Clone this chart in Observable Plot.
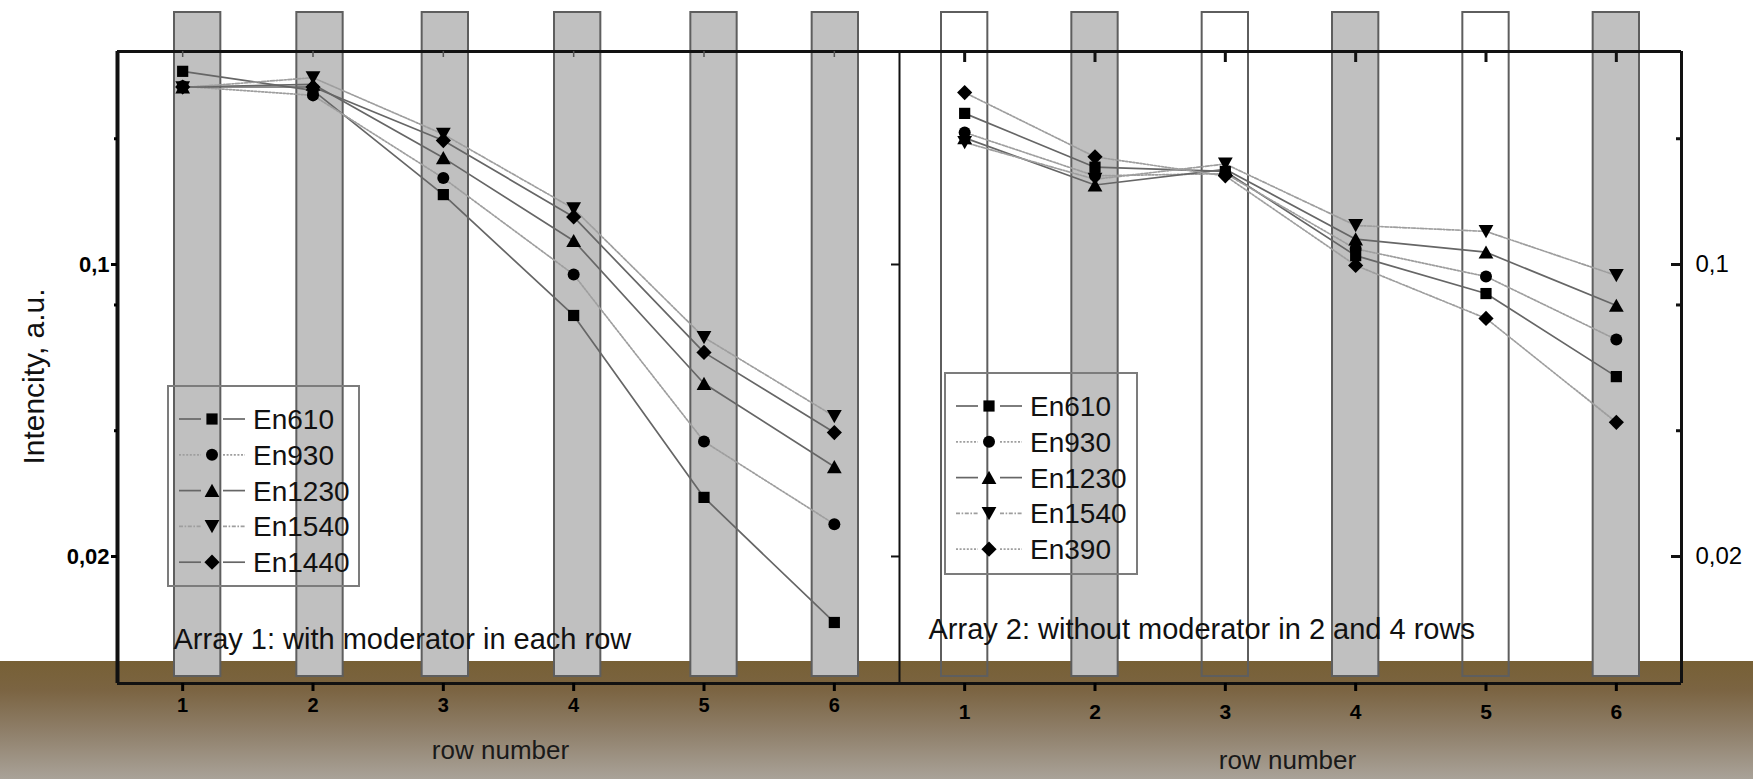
<!DOCTYPE html>
<html>
<head>
<meta charset="utf-8">
<script src="https://cdn.jsdelivr.net/npm/d3@7"></script>
<script src="https://cdn.jsdelivr.net/npm/@observablehq/plot@0.6"></script>
<style>
  html, body { margin: 0; padding: 0; background: #fff; }
  #chart {
    position: relative; width: 1753px; height: 779px; overflow: hidden;
    background: linear-gradient(to bottom, #ffffff 0px, #ffffff 661px, #776035 661px, #7b6442 690px, #8e7e68 730px, #a9a298 779px);
  }
</style>
</head>
<body>
<div id="chart"></div>
<script>
// ---------------- data ----------------
const rows = [1, 2, 3, 4, 5, 6];
const panels = ["Array 1", "Array 2"];
const array1Series = ["En610", "En930", "En1230", "En1540", "En1440"];
const array2Series = ["En610", "En930", "En1230", "En1540", "En390"];

const a1En610  = [0.290, 0.261, 0.147, 0.0755, 0.0277, 0.0139];
const a1En930  = [0.267, 0.254, 0.161, 0.0946, 0.0377, 0.0239];
const a1En1230 = [0.266, 0.270, 0.180, 0.114, 0.0519, 0.0328];
const a1En1540 = [0.265, 0.280, 0.205, 0.136, 0.0669, 0.0433];
const a1En1440 = [0.266, 0.266, 0.198, 0.130, 0.0616, 0.0396];

const a2En610  = [0.230, 0.171, 0.167, 0.105, 0.0852, 0.0539];
const a2En930  = [0.207, 0.163, 0.165, 0.109, 0.0936, 0.0661];
const a2En1230 = [0.201, 0.155, 0.169, 0.115, 0.107, 0.0798];
const a2En1540 = [0.196, 0.160, 0.174, 0.124, 0.120, 0.0941];
const a2En390  = [0.258, 0.181, 0.163, 0.0995, 0.0743, 0.0419];

const array1Bars = ["filled", "filled", "filled", "filled", "filled", "filled"];
const array2Bars = ["open", "filled", "open", "filled", "open", "filled"];

const yTicks = [0.1, 0.02];
const yMinorTicks = [0.2, 0.08, 0.04];
const annotations = ["Array 1: with moderator in each row", "Array 2: without moderator in 2 and 4 rows"];
const xLabel = "row number";
const yLabel = "Intencity, a.u.";

// ---------------- layout / style ----------------
const W = 1753, H = 779, mL = 117, mR = 72, mT = 51, mB = 96;
const facetW = (W - mL - mR) / 2;
const frameH = H - mT - mB;
const xDomain = [0.5, 6.5];
const yDomain = [0.00993, 0.3235];
const font = "'Liberation Sans', Arial, Helvetica, sans-serif";
const fmt = d => String(d).replace(".", ",");
// pixel nudges of the background columns of the first panel (drawing offsets)
const panel1ColumnNudge = [15, 7, 2, 4, 10, 1];

const k6 = size => Math.sqrt(size / Math.PI) / 6;
const squareSym = {draw(c, s) { const h = 5.6 * k6(s); c.moveTo(-h, -h); c.lineTo(h, -h); c.lineTo(h, h); c.lineTo(-h, h); c.closePath(); }};
const circleSym = {draw(c, s) { const r = 6 * k6(s); c.moveTo(r, 0); c.arc(0, 0, r, 0, 2 * Math.PI); c.closePath(); }};
const triUpSym = {draw(c, s) { const k = k6(s); c.moveTo(0, -6.8 * k); c.lineTo(7.4 * k, 6.4 * k); c.lineTo(-7.4 * k, 6.4 * k); c.closePath(); }};
const triDownSym = {draw(c, s) { const k = k6(s); c.moveTo(0, 6.8 * k); c.lineTo(7.4 * k, -6.4 * k); c.lineTo(-7.4 * k, -6.4 * k); c.closePath(); }};
const diamondSym = {draw(c, s) { const k = k6(s); c.moveTo(0, -7.6 * k); c.lineTo(7.6 * k, 0); c.lineTo(0, 7.6 * k); c.lineTo(-7.6 * k, 0); c.closePath(); }};
const symbols = [squareSym, circleSym, triUpSym, triDownSym, diamondSym];

const solid = {stroke: "#666666", strokeWidth: 1.7, dash: null};
const dotted = {stroke: "#9e9e9e", strokeWidth: 1.7, dash: "2,1.6"};
const dashdot = {stroke: "#9e9e9e", strokeWidth: 1.7, dash: "4,1.6,1.6,1.6"};
const lineStyles = {"Array 1": [solid, dotted, solid, dashdot, solid], "Array 2": [solid, dotted, solid, dashdot, dotted]};

// ---------------- records ----------------
const seriesByPanel = {
  "Array 1": {names: array1Series, values: [a1En610, a1En930, a1En1230, a1En1540, a1En1440]},
  "Array 2": {names: array2Series, values: [a2En610, a2En930, a2En1230, a2En1540, a2En390]}
};
const points = [];
for (const panel of panels) {
  const {names, values} = seriesByPanel[panel];
  names.forEach((name, i) => rows.forEach((row, j) => points.push({panel, series: name, idx: i, row, v: values[i][j]})));
}
const bars = [];
rows.forEach((row, j) => {
  bars.push({panel: "Array 1", row, j, kind: array1Bars[j]});
  bars.push({panel: "Array 2", row, j, kind: array2Bars[j]});
});
const tickRecs = (panel, vals, key) => vals.map(v => ({panel, [key]: v}));

// ---------------- marks ----------------
const marks = [];
const barOpts = {x1: d => d.row - 0.5, x2: d => d.row + 0.5, fx: "panel", insetLeft: 42, insetRight: 42, insetTop: -39, insetBottom: 7, stroke: "#5e5e5e", strokeWidth: 2};
bars.filter(d => d.panel === "Array 1").forEach(b => {
  marks.push(Plot.rect([b], {...barOpts, dx: panel1ColumnNudge[b.j], fill: b.kind === "filled" ? "#c0c0c0" : "none"}));
});
marks.push(Plot.rect(bars.filter(d => d.panel === "Array 2" && d.kind === "filled"), {...barOpts, fill: "#c0c0c0"}));
marks.push(Plot.rect(bars.filter(d => d.panel === "Array 2" && d.kind === "open"), {...barOpts, fill: "none"}));

// frame lines
marks.push(Plot.ruleY([yDomain[1]], {strokeWidth: 3, stroke: "#111"}));
marks.push(Plot.ruleY([yDomain[0]], {strokeWidth: 3, stroke: "#111"}));
marks.push(Plot.ruleX([{panel: "Array 1", x: xDomain[0]}], {x: "x", fx: "panel", strokeWidth: 4, stroke: "#111"}));
marks.push(Plot.ruleX([{panel: "Array 1", x: xDomain[1]}], {x: "x", fx: "panel", strokeWidth: 2, stroke: "#111"}));
marks.push(Plot.ruleX([{panel: "Array 2", x: xDomain[1]}], {x: "x", fx: "panel", strokeWidth: 3, stroke: "#111"}));

// top inner ticks
marks.push(Plot.tickX(tickRecs("Array 1", rows, "row"), {x: "row", fx: "panel", insetBottom: frameH - 6, stroke: "#555", strokeWidth: 1.5}));
marks.push(Plot.tickX(tickRecs("Array 2", rows, "row"), {x: "row", fx: "panel", insetBottom: frameH - 11, stroke: "#111", strokeWidth: 3}));
// right-edge inner ticks
marks.push(Plot.tickY(tickRecs("Array 2", yTicks, "v"), {y: "v", fx: "panel", insetLeft: facetW - 10, stroke: "#111", strokeWidth: 3}));
marks.push(Plot.tickY(tickRecs("Array 2", yMinorTicks, "v"), {y: "v", fx: "panel", insetLeft: facetW - 5, stroke: "#111", strokeWidth: 3}));
marks.push(Plot.tickY(tickRecs("Array 1", yTicks, "v"), {y: "v", fx: "panel", insetLeft: facetW - 8, stroke: "#111", strokeWidth: 2}));

// axes
marks.push(Plot.axisY({anchor: "left", facetAnchor: "left", ticks: yTicks, tickSize: 6, tickPadding: 2, strokeWidth: 3, tickFormat: fmt, fontSize: 22, fontWeight: "bold", fontFamily: font, label: null}));
marks.push(Plot.axisY({anchor: "left", facetAnchor: "left", ticks: yMinorTicks, tickSize: 3, strokeWidth: 3, tickFormat: () => "", label: null}));
marks.push(Plot.axisY({anchor: "right", facetAnchor: "right", ticks: yTicks, tickSize: 0, tickPadding: 14, tickFormat: fmt, fontSize: 24, fontFamily: font, label: null}));
marks.push(Plot.axisX({anchor: "bottom", facetAnchor: "left", ticks: rows, tickSize: 8, tickPadding: 6, strokeWidth: 3, tickFormat: d => String(d), fontSize: 20, fontWeight: "bold", fontFamily: font, label: null}));
marks.push(Plot.axisX({anchor: "bottom", facetAnchor: "right", ticks: rows, tickSize: 8, tickPadding: 13, strokeWidth: 3, tickFormat: d => String(d), fontSize: 21, fontWeight: "bold", fontFamily: font, label: null}));

// series lines and markers
for (const panel of panels) {
  seriesByPanel[panel].names.forEach((name, i) => {
    const st = lineStyles[panel][i];
    marks.push(Plot.line(points.filter(d => d.panel === panel && d.idx === i), {x: "row", y: "v", fx: "panel", stroke: st.stroke, strokeWidth: st.strokeWidth, strokeDasharray: st.dash}));
  });
}
symbols.forEach((sym, i) => {
  marks.push(Plot.dot(points.filter(d => d.idx === i), {x: "row", y: "v", fx: "panel", symbol: sym, r: 6, fill: "#000", stroke: "none"}));
});

// texts
marks.push(Plot.text([{panel: "Array 1", t: annotations[0]}], {fx: "panel", text: "t", frameAnchor: "bottom-left", textAnchor: "start", lineAnchor: "middle", dx: 56, dy: -44, fontSize: 29, fontFamily: font, fill: "#111"}));
marks.push(Plot.text([{panel: "Array 2", t: annotations[1]}], {fx: "panel", text: "t", frameAnchor: "bottom-left", textAnchor: "start", lineAnchor: "middle", dx: 29, dy: -54, fontSize: 29, fontFamily: font, fill: "#111"}));
marks.push(Plot.text([{panel: "Array 1", t: xLabel}], {fx: "panel", text: "t", frameAnchor: "bottom", textAnchor: "middle", lineAnchor: "middle", dx: -8, dy: 67, fontSize: 26, fontFamily: font, fill: "#1a1a1a"}));
marks.push(Plot.text([{panel: "Array 2", t: xLabel}], {fx: "panel", text: "t", frameAnchor: "bottom", textAnchor: "middle", lineAnchor: "middle", dx: -3, dy: 77, fontSize: 26, fontFamily: font, fill: "#1a1a1a"}));
marks.push(Plot.text([{panel: "Array 1", t: yLabel}], {fx: "panel", text: "t", frameAnchor: "left", rotate: -90, textAnchor: "middle", lineAnchor: "middle", dx: -83, dy: 9, fontSize: 30, fontFamily: font, fill: "#111"}));

const svg = Plot.plot({
  width: W, height: H,
  marginLeft: mL, marginRight: mR, marginTop: mT, marginBottom: mB,
  style: {background: "transparent", overflow: "visible", fontFamily: font},
  fx: {domain: panels, padding: 0, round: false, axis: null, label: null},
  x: {domain: xDomain},
  y: {type: "log", domain: yDomain},
  marks
});
document.getElementById("chart").appendChild(svg);

// ---------------- legends ----------------
function drawLegend(panel, box) {
  const {names} = seriesByPanel[panel];
  const g = d3.select(svg).append("g").attr("font-family", font).attr("text-anchor", "start");
  g.append("rect").attr("x", box.x).attr("y", box.y).attr("width", box.w).attr("height", box.h)
    .attr("fill", "none").attr("stroke", "#7c7c7c").attr("stroke-width", 2);
  names.forEach((name, i) => {
    const cy = box.y + 33 + i * 35.8;
    const st = lineStyles[panel][i];
    [[11, 33], [55, 77]].forEach(([a, b]) => {
      g.append("line").attr("x1", box.x + a).attr("x2", box.x + b).attr("y1", cy).attr("y2", cy)
        .attr("stroke", st.stroke).attr("stroke-width", st.strokeWidth).attr("stroke-dasharray", st.dash);
    });
    const p = d3.path();
    symbols[i].draw(p, 36 * Math.PI);
    g.append("path").attr("d", p.toString()).attr("transform", `translate(${box.x + 44},${cy})`).attr("fill", "#000");
    g.append("text").attr("x", box.x + 85).attr("y", cy + 10).attr("font-size", 28).attr("text-anchor", "start").attr("fill", "#111").text(name);
  });
}
drawLegend("Array 1", {x: 168, y: 386, w: 191, h: 200});
drawLegend("Array 2", {x: 945, y: 373, w: 192, h: 201});
</script>
</body>
</html>
